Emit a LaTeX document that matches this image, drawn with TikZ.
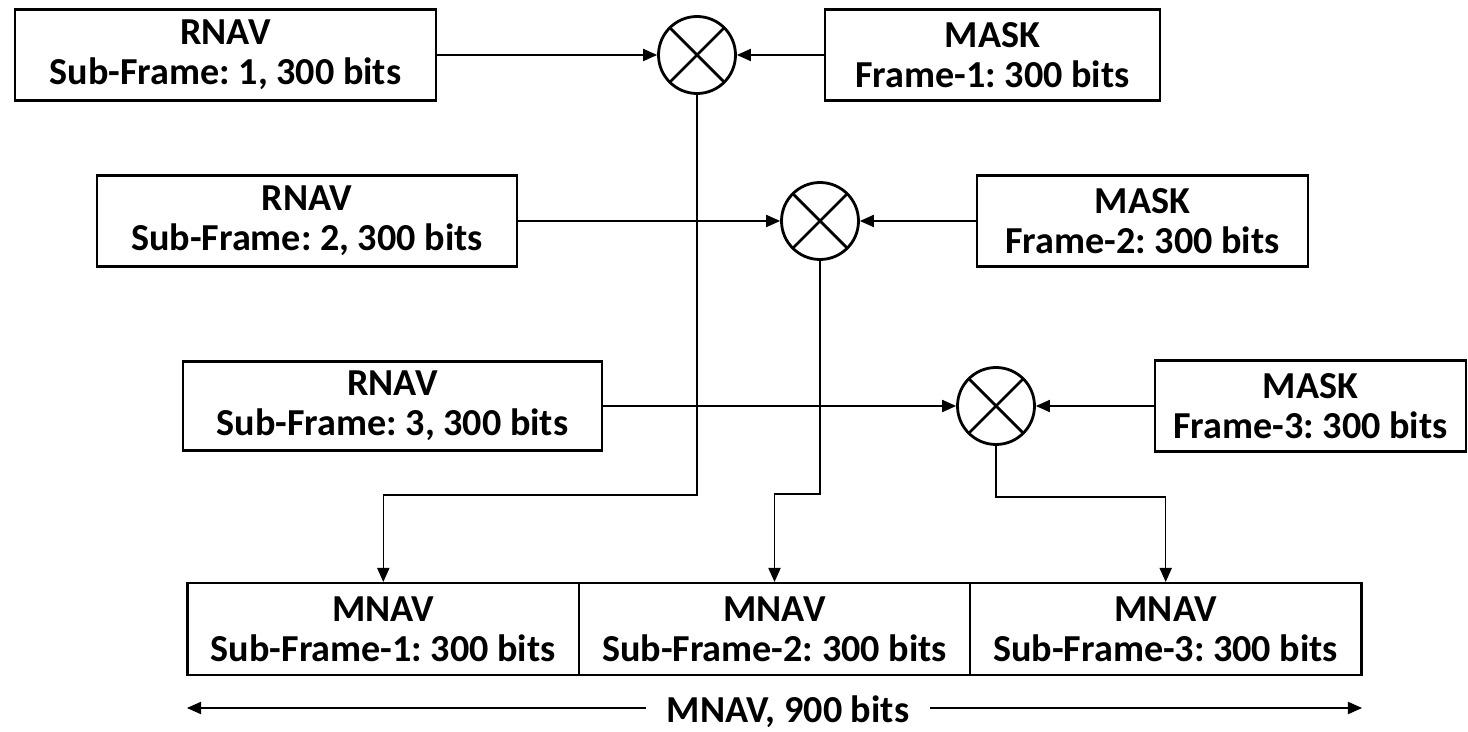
\documentclass[tikz,border=0pt]{standalone}
\usepackage{fontspec}
\setmainfont{Carlito}
\usepackage{tikz}
\usetikzlibrary{arrows.meta, calc}
\frenchspacing

\begin{document}
\begin{tikzpicture}[
    x=0.02cm, y=-0.02cm,
    block/.style={rectangle, draw=black, line width=1.2pt, minimum height=1.82cm, inner sep=0pt, align=center, font=\bfseries\fontsize{21.7}{22.8}\selectfont},
    mixer/.style={circle, draw=black, line width=1.6pt, minimum size=1.54cm, inner sep=0pt, path picture={\draw[line width=1.6pt] (path picture bounding box.north west) -- (path picture bounding box.south east) (path picture bounding box.south west) -- (path picture bounding box.north east);}},
    arrow/.style={line width=0.6pt, -{Triangle[length=8pt, width=7pt]}}
]
    \useasboundingbox (0,0) rectangle (1468,732);

    \node[block, minimum width=8.42cm] (rnav1) at (225.5,55) {RNAV\\Sub-Frame: 1, 300 bits};
    \node[block, minimum width=8.4cm] (rnav2) at (307,221) {RNAV\\Sub-Frame: 2, 300 bits};
    \node[block, minimum width=8.38cm, minimum height=1.78cm] (rnav3) at (392.5,406) {RNAV\\Sub-Frame: 3, 300 bits};

    \node[block, minimum width=6.7cm] (mask1) at (992.5,55) {MASK\\Frame-1: 300 bits};
    \node[block, minimum width=6.62cm] (mask2) at (1142.5,221) {MASK\\Frame-2: 300 bits};
    \node[block, minimum width=6.22cm] (mask3) at (1310.5,406) {MASK\\Frame-3: 300 bits};

    \node[mixer] (m1) at (697,55) {};
    \node[mixer] (m2) at (820,221) {};
    \node[mixer] (m3) at (996,406) {};

    \node[block, minimum width=7.833cm, minimum height=1.84cm] (mnav1) at (383.3,629) {MNAV\\Sub-Frame-1: 300 bits};
    \node[block, minimum width=7.833cm, minimum height=1.84cm] (mnav2) at (774.5,629) {MNAV\\Sub-Frame-2: 300 bits};
    \node[block, minimum width=7.833cm, minimum height=1.84cm] (mnav3) at (1165.7,629) {MNAV\\Sub-Frame-3: 300 bits};

    \draw[arrow] (rnav1.east) -- (m1.west);
    \draw[arrow] (rnav2.east) -- (m2.west);
    \draw[arrow] (rnav3.east) -- (m3.west);
    \draw[arrow] (mask1.west) -- (m1.east);
    \draw[arrow] (mask2.west) -- (m2.east);
    \draw[arrow] (mask3.west) -- (m3.east);

    \coordinate (j1) at (383.3,495);
    \coordinate (j2) at (774.5,494);
    \coordinate (j3) at (1165.7,497);
    \draw[arrow] (m1.south) |- (j1) -| (mnav1.north);
    \draw[arrow] (m2.south) |- (j2) -| (mnav2.north);
    \draw[arrow] (m3.south) |- (j3) -| (mnav3.north);

    % total length
    \node[font=\bfseries\fontsize{21.7}{22.8}\selectfont, inner xsep=0.4cm, inner ysep=0pt] (total) at (788,712) {MNAV, 900 bits};
    \coordinate (totl) at (187,708);
    \coordinate (totr) at (1362,708);
    \draw[arrow] (total.west |- totl) -- (totl);
    \draw[arrow] (total.east |- totr) -- (totr);

\end{tikzpicture}
\end{document}
